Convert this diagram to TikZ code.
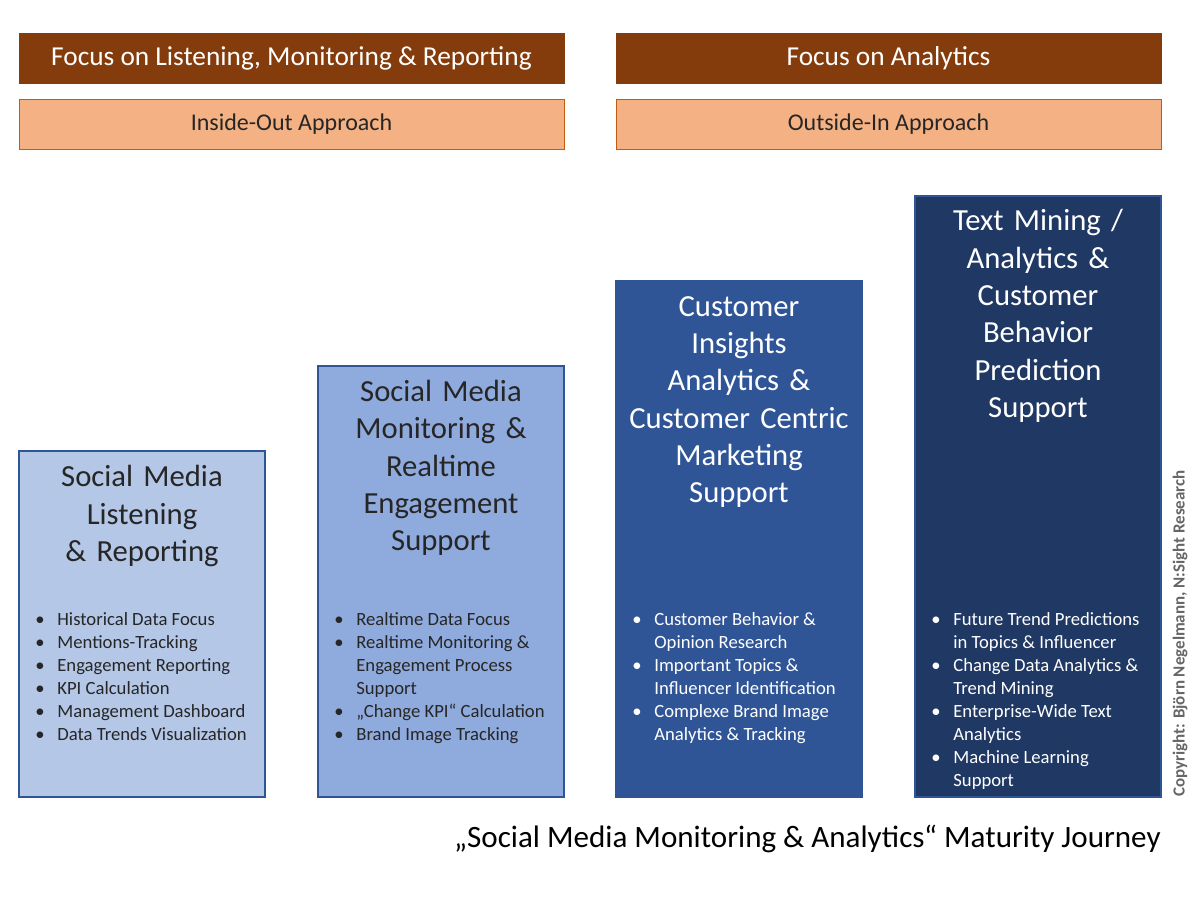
\documentclass[tikz,border=0pt]{standalone}
\usepackage{fontspec}
\setmainfont{Carlito}
\definecolor{brown}{HTML}{843C0C}
\definecolor{peach}{HTML}{F4B183}
\definecolor{peachb}{HTML}{C55A11}
\definecolor{b1}{HTML}{B4C7E7}
\definecolor{b2}{HTML}{8FAADC}
\definecolor{b3}{HTML}{2F5597}
\definecolor{b4}{HTML}{203864}
\definecolor{edge}{HTML}{2F5597}
\definecolor{txt}{HTML}{262626}
\newcommand{\bi}[1]{\makebox[20pt][l]{\hspace{3.5pt}\textbullet}\begin{tabular}[t]{@{}l@{}}#1\end{tabular}\\}
\newcommand{\bm}[1]{\makebox[20pt][l]{\hspace{3.5pt}\textbullet}\begin{tabular}[t]{@{}l@{}}#1\end{tabular}\\[-1pt]}
\begin{document}
\begin{tikzpicture}[x=0.75pt,y=-0.75pt,
 head/.style={fill=brown,draw=brown,text=white,font=\fontsize{20.5}{24}\selectfont,text height=14pt,text depth=3pt},
 appr/.style={fill=peach,draw=peachb,text=txt,font=\fontsize{18}{21}\selectfont,text height=12pt,text depth=2.5pt},
 col/.style={draw=edge,line width=0.9pt},
 ttl/.style={align=center,font=\fontsize{23}{28}\selectfont,text width=182pt},
 lst/.style={anchor=north west,align=left,font=\fontsize{14}{17.2}\selectfont}]
\useasboundingbox (0,0) rectangle (1200,910);
\fill[white] (0,0) rectangle (1200,910);
\node[head,minimum width=408.75pt,minimum height=37.5pt] (h1) at (291.5,58) {Focus on Listening, Monitoring \& Reporting};
\node[head,minimum width=408.75pt,minimum height=37.5pt] (h2) at (888.5,58) {Focus on Analytics};
\node[appr,minimum width=408.75pt,minimum height=37.5pt] (a1) at (291.5,124) {Inside-Out Approach};
\node[appr,minimum width=408.75pt,minimum height=37.5pt] (a2) at (888.5,124) {Outside-In Approach};
\draw[col,fill=b1] (19,451) rectangle (265,797); \node[ttl,text=txt] (t1) at (142,516) {Social Media\\Listening\\\& Reporting};
\draw[col,fill=b2] (318,366) rectangle (564,797); \node[ttl,text=txt] (t2) at (441,468) {Social Media\\Monitoring \&\\Realtime\\Engagement\\Support};
\draw[col,fill=b3] (616,281) rectangle (862,797); \node[ttl,text=white] (t3) at (739,402) {Customer\\Insights\\Analytics \&\\Customer Centric\\Marketing\\Support};
\draw[col,fill=b4] (915,196) rectangle (1161,797); \node[ttl,text=white] (t4) at (1038,316) {Text Mining /\\Analytics \&\\Customer\\Behavior\\Prediction\\Support};
\node[lst,text=txt] (l1) at (26,605) {\bi{Historical Data Focus}\bi{Mentions-Tracking}\bi{Engagement Reporting}\bi{KPI Calculation}\bi{Management Dashboard}\bi{Data Trends Visualization}};
\node[lst,text=txt] (l2) at (325,605) {\bi{Realtime Data Focus}\bm{Realtime Monitoring \&\\Engagement Process\\Support}\bi{„Change KPI“ Calculation}\bi{Brand Image Tracking}};
\node[lst,text=white] (l3) at (623,605) {\bm{Customer Behavior \&\\Opinion Research}\bm{Important Topics \&\\Influencer Identification}\bm{Complexe Brand Image\\Analytics \& Tracking}};
\node[lst,text=white] (l4) at (922,605) {\bm{Future Trend Predictions\\in Topics \& Influencer}\bm{Change Data Analytics \&\\Trend Mining}\bm{Enterprise-Wide Text\\Analytics}\bm{Machine Learning\\Support}};
\node[anchor=east,text=black,font=\fontsize{23.3}{26}\selectfont,inner sep=0] (cap) at (1161,839) {„Social Media Monitoring \& Analytics“ Maturity Journey};
\node[rotate=90,anchor=east,text=black!60,font=\bfseries\fontsize{12.7}{14}\selectfont,inner sep=0] (cr) at (1180,470) {Copyright: Björn Negelmann, N:Sight Research};
\end{tikzpicture}
\end{document}
